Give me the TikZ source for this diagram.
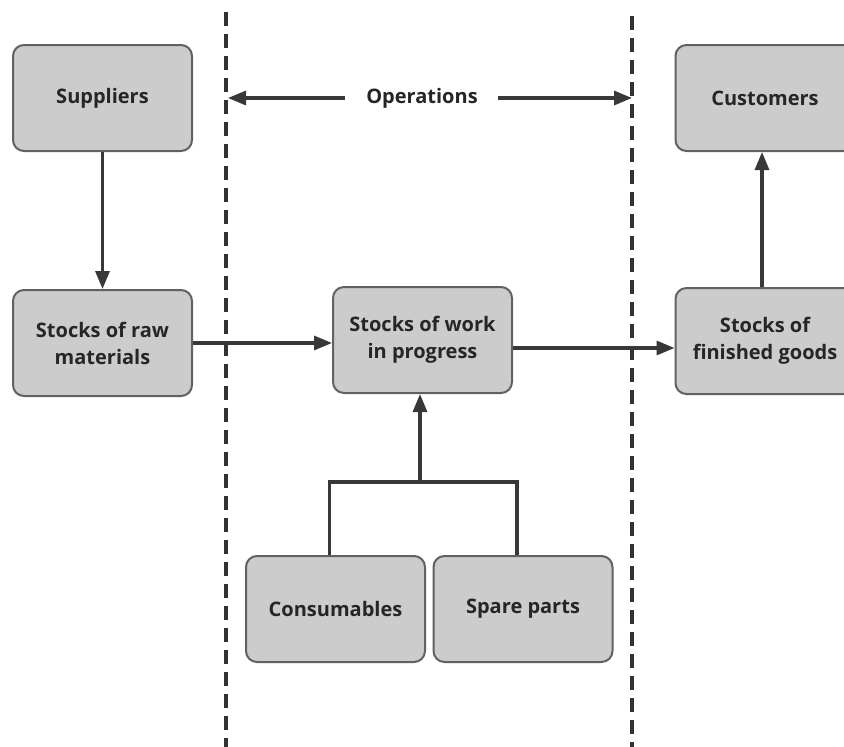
\documentclass[tikz,border=0pt]{standalone}
\usepackage{fontspec}
\setmainfont{Open Sans}
\usetikzlibrary{arrows.meta}
\begin{document}
\begin{tikzpicture}[x=1pt,y=-1pt,
  stockbox/.style={draw=black!62, line width=2pt, fill=black!20, rounded corners=11pt,
    minimum width=179pt, minimum height=106pt, inner sep=0pt, align=center,
    font=\fontsize{20}{27}\selectfont\bfseries, text=black!85},
  flow/.style={draw=black!78, line width=3.2pt, -{Triangle[length=18pt,width=14pt]}},
  link/.style={draw=black!78, line width=3.2pt},
  border/.style={draw=black!80, line width=3.2pt, dash pattern=on 14pt off 8pt}]
\useasboundingbox (0,0) rectangle (844,747);
\fill[white] (0,0) rectangle (844,747);

% operations boundaries
\coordinate (lt) at (226,12);
\coordinate (lb) at (226,747);
\coordinate (rt) at (632,16);
\coordinate (rb) at (632,747);
\draw[border] (lt) -- (lb);
\draw[border] (rt) -- (rb);

% stock holding points
\node[stockbox] (sup)  at (102.5,98)  {Suppliers};
\node[stockbox] (raw)  at (102.5,343) {Stocks of raw\\materials};
\node[stockbox] (wip)  at (422.5,340) {Stocks of work\\in progress};
\node[stockbox] (fin)  at (765,341)   {Stocks of\\finished goods};
\node[stockbox] (cus)  at (765,98)    {Customers};
\node[stockbox] (cons) at (335.5,609) {Consumables};
\node[stockbox] (spare) at (523,609)  {Spare parts};

% operations label with its span arrows
\node[font=\fontsize{20}{24}\selectfont\bfseries, text=black!85] (ops) at (422,98) {Operations};
\coordinate (opl) at (228,98);
\coordinate (opr) at (632,98);
\draw[flow] ([xshift=-77pt]ops.center) -- (opl);
\draw[flow] ([xshift=76pt]ops.center) -- (opr);

% material flows
\draw[flow] (sup.south) -- (raw.north);
\draw[flow] (raw.east) -- (raw.east -| wip.west);
\draw[flow] (wip.east |- 0,348) -- (fin.west |- 0,348);
\draw[flow] (fin.north -| 762,0) -- (cus.south -| 762,0);

% supporting materials join and feed work in progress
\coordinate (j) at (420,482);
\draw[link] ([xshift=-6pt]cons.north) |- (j) -| ([xshift=-6pt]spare.north);
\draw[flow] (j) -- (wip.south -| j);
\end{tikzpicture}
\end{document}
